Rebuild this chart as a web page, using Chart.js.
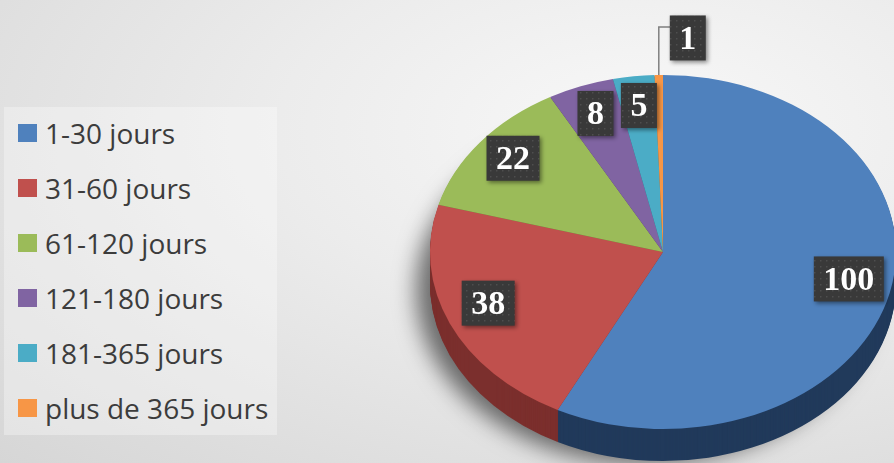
<!DOCTYPE html>
<html>
<head>
<meta charset="utf-8">
<script src="https://cdn.jsdelivr.net/npm/chart.js@4.4.1/dist/chart.umd.min.js"></script>
<style>
  html, body { margin: 0; padding: 0; width: 894px; height: 463px; overflow: hidden; }
  body {
    position: relative;
    background: radial-gradient(ellipse at 72% 28%, #f8f8f8 0%, #ececec 40%, #d6d6d6 100%);
    font-family: "Open Sans", sans-serif;
  }
  #legende {
    position: absolute; left: 4px; top: 107px; width: 273px; height: 328px;
    background: rgba(255, 255, 255, .32);
  }
  .item {
    position: absolute; left: 14px; height: 38px;
    display: flex; align-items: center;
    font-size: 28px; color: #3c3c3c; white-space: nowrap;
  }
  .item .carre { width: 19px; height: 18px; margin-right: 8px; }
  #zone { position: absolute; left: 380px; top: 0; width: 520px; height: 500px; }
</style>
</head>
<body>
<div id="legende"></div>
<div id="zone"><canvas id="camembert"></canvas></div>
<script>
const categories = ["1-30 jours", "31-60 jours", "61-120 jours", "121-180 jours", "181-365 jours", "plus de 365 jours"];
const valeurs = [100, 38, 22, 8, 5, 1];
const couleurs = ["#4f81bd", "#c0504d", "#9bbb59", "#8064a2", "#4bacc6", "#f79646"];
const couleursCote = ["#213a5b", "#7b2f2d", "#5f7636", "#4d3c63", "#2c6a7b", "#a45f28"];

const K = 0.76;      // aplatissement (vue en perspective)
const EPAIS = 32;    // épaisseur du disque

// Légende à gauche
const legende = document.getElementById("legende");
categories.forEach((nom, i) => {
  const div = document.createElement("div");
  div.className = "item";
  div.style.top = (7 + i * 55) + "px";
  div.innerHTML = '<span class="carre" style="background:' + couleurs[i] + '"></span>' + nom;
  legende.appendChild(div);
});

// motif pointillé des étiquettes
function motif(ctx) {
  const c = document.createElement("canvas");
  c.width = 6; c.height = 6;
  const g = c.getContext("2d");
  g.fillStyle = "#393939"; g.fillRect(0, 0, 6, 6);
  g.fillStyle = "#4e4e4e"; g.fillRect(2, 2, 1.5, 1.5);
  return ctx.createPattern(c, "repeat");
}

function etiquette(ctx, texte, x, y) {
  ctx.font = "bold 34px 'Liberation Serif'";
  const w = ctx.measureText(texte).width + 19;
  const h = 45;
  ctx.save();
  ctx.shadowColor = "rgba(0,0,0,.45)";
  ctx.shadowBlur = 4; ctx.shadowOffsetX = 2; ctx.shadowOffsetY = 2;
  ctx.fillStyle = motif(ctx);
  ctx.fillRect(x - w / 2, y - h / 2, w, h);
  ctx.restore();
  ctx.fillStyle = "#ffffff";
  ctx.textAlign = "center"; ctx.textBaseline = "middle";
  ctx.fillText(texte, x, y + 2);
}

const relief3d = {
  id: "relief3d",
  beforeDatasetsDraw(chart) {
    const ctx = chart.ctx;
    const arcs = chart.getDatasetMeta(0).data;
    const cx = arcs[0].x, cy = arcs[0].y, R = arcs[0].outerRadius;
    for (let d = EPAIS; d >= 1; d--) {
      ctx.save();
      ctx.translate(0, d);
      ctx.translate(cx, cy); ctx.scale(1, K); ctx.translate(-cx, -cy);
      if (d === EPAIS) {
        // ombre portée, surtout à gauche
        ctx.save();
        ctx.shadowColor = "rgba(0,0,0,.55)";
        ctx.shadowBlur = 22; ctx.shadowOffsetX = -18; ctx.shadowOffsetY = 6;
        ctx.beginPath(); ctx.arc(cx, cy, R - 4, 0, Math.PI * 2);
        ctx.fillStyle = "#2a2a2a"; ctx.fill();
        ctx.restore();
      }
      arcs.forEach((arc, i) => {
        ctx.beginPath();
        ctx.moveTo(cx, cy);
        ctx.arc(cx, cy, arc.outerRadius, arc.startAngle, arc.endAngle);
        ctx.closePath();
        ctx.fillStyle = couleursCote[i];
        ctx.fill();
      });
      ctx.restore();
    }
    ctx.save();
    ctx.translate(cx, cy); ctx.scale(1, K); ctx.translate(-cx, -cy);
  },
  afterDatasetsDraw(chart) {
    const ctx = chart.ctx;
    ctx.restore();
    const arcs = chart.getDatasetMeta(0).data;
    arcs.forEach((arc, i) => {
      const mid = (arc.startAngle + arc.endAngle) / 2;
      const R = arc.outerRadius;
      if (arc.endAngle - arc.startAngle < 0.06) {
        // petite part : étiquette à l'extérieur avec trait de rappel
        const ex = arc.x + Math.cos(mid) * R;
        const ey = arc.y + Math.sin(mid) * R * K;
        const bx = ex + 29, by = ey - 37;
        ctx.save();
        ctx.strokeStyle = "#7f7f7f"; ctx.lineWidth = 1.5;
        ctx.beginPath();
        ctx.moveTo(ex, ey); ctx.lineTo(ex, by - 11); ctx.lineTo(bx - 15, by - 11);
        ctx.stroke();
        ctx.restore();
        etiquette(ctx, String(valeurs[i]), bx, by);
      } else {
        const x = arc.x + Math.cos(mid) * R * 0.82;
        const y = arc.y + Math.sin(mid) * R * 0.8 * K - 6;
        etiquette(ctx, String(valeurs[i]), x, y);
      }
    });
  }
};

new Chart(document.getElementById("camembert"), {
  type: "pie",
  data: {
    labels: categories,
    datasets: [{
      data: valeurs,
      backgroundColor: couleurs,
      borderWidth: 0
    }]
  },
  options: {
    responsive: true,
    maintainAspectRatio: false,
    animation: false,
    events: [],
    layout: { padding: { top: 19, bottom: 15, left: 50, right: 4 } },
    plugins: { legend: { display: false }, tooltip: { enabled: false } }
  },
  plugins: [relief3d]
});
</script>
</body>
</html>
